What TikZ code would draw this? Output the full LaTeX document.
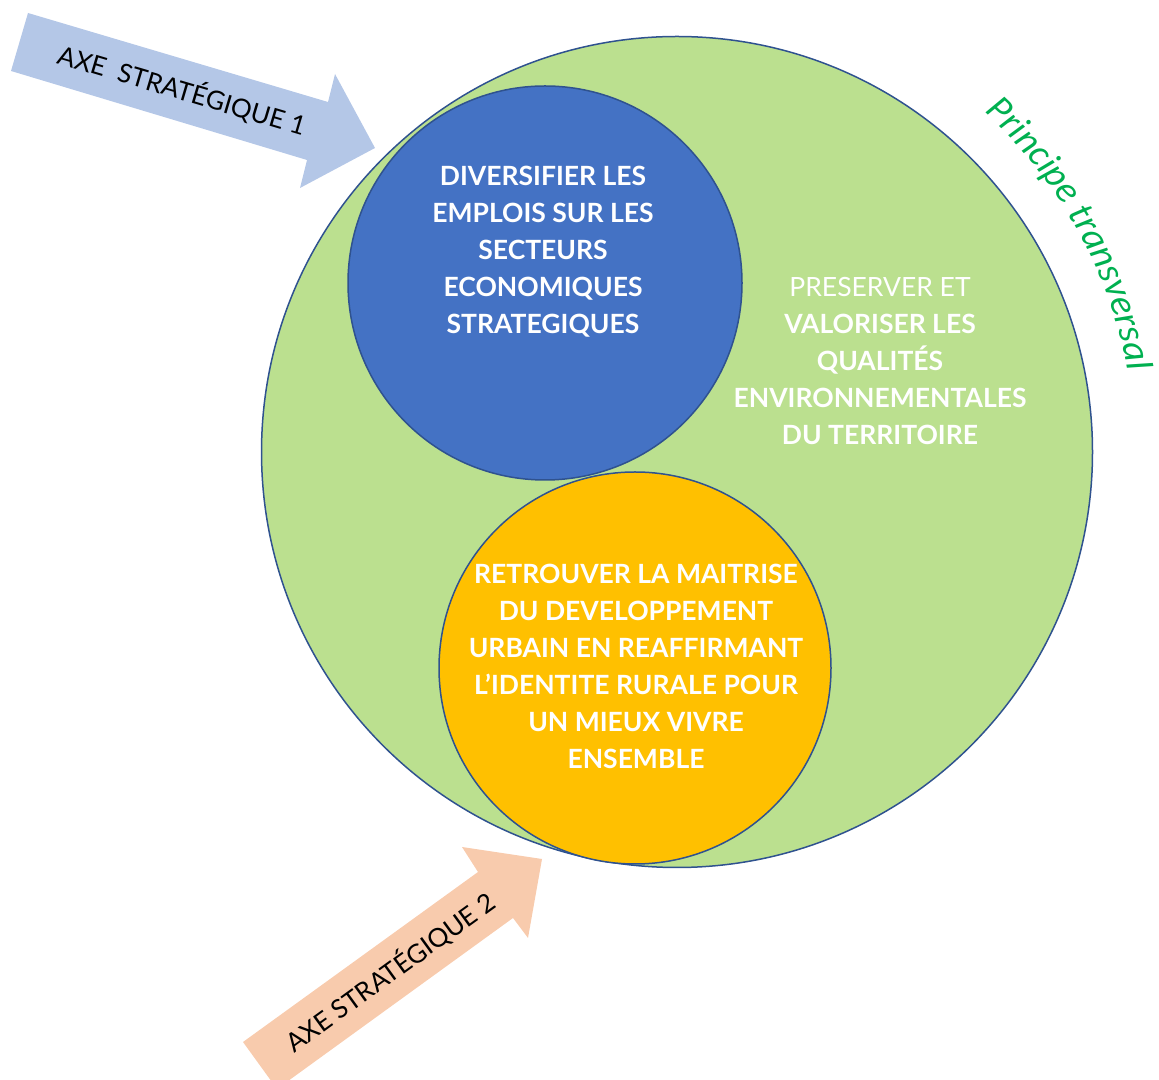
\documentclass[tikz,border=0pt]{standalone}
\usepackage{fontspec}
\setmainfont{Lato}
\newfontfamily\carlito{Carlito}
\usetikzlibrary{decorations.text}
\definecolor{gfill}{RGB}{187,224,143}
\definecolor{bfill}{RGB}{68,114,196}
\definecolor{ofill}{RGB}{255,192,0}
\definecolor{edgecol}{RGB}{47,82,143}
\definecolor{arrA}{RGB}{180,199,231}
\definecolor{arrB}{RGB}{248,203,173}
\definecolor{pgreen}{RGB}{0,176,80}
\begin{document}
\begin{tikzpicture}[x=1pt,y=1pt,
  disc/.style={circle, draw=edgecol, line width=1.5pt, inner sep=0pt},
  bigtext/.style={font=\fontsize{26.5}{37}\selectfont\bfseries, text=white, align=center, inner sep=0pt},
  axetext/.style={font=\fontsize{26}{26}\selectfont, text=black, inner sep=0pt}]
\useasboundingbox (0,0) rectangle (1159,1079);
\clip (0,0) rectangle (1159,1079);
\node[disc, fill=gfill, minimum size=831] (green) at (677,627) {};
\node[disc, fill=bfill, minimum size=394] (blue) at (545,796) {};
\node[disc, fill=ofill, minimum size=392] (orange) at (635,411) {};
% arrows
\fill[arrA] (28,1066) -- (328,977) -- (335,1005) -- (375,931) -- (300,891) -- (307,919) -- (11,1008) -- cycle;
\fill[arrB] (243,37) -- (478,207) -- (462,232) -- (542,220) -- (528,141) -- (513,161) -- (277,-10) -- cycle;
\node[axetext, rotate=-16.5] (axe1) at (182,989) {AXE\hspace{0.25em} STRATÉGIQUE 1};
\node[axetext, rotate=35.9] (axe2) at (390,107) {AXE STRATÉGIQUE 2};
% texts
\node[bigtext] (tblue) at (543,827) {DIVERSIFIER LES\\EMPLOIS SUR LES\\SECTEURS\\ECONOMIQUES\\STRATEGIQUES};
\node[bigtext] (tgreen) at (880,718) {{\mdseries PRESERVER ET}\\VALORISER LES\\QUALITÉS\\ENVIRONNEMENTALES\\DU TERRITOIRE};
\node[bigtext] (torange) at (636,413) {RETROUVER LA MAITRISE\\DU DEVELOPPEMENT\\URBAIN EN REAFFIRMANT\\L’IDENTITE RURALE POUR\\UN MIEUX VIVRE\\ENSEMBLE};
% curved label
\path[decorate, decoration={text along path, text align=center, text color=pgreen,
  text={|\carlito\itshape\fontsize{38}{38}\selectfont|Principe transversal}}]
  (677,627) ++(55:458) arc[start angle=55, end angle=3, radius=458];
\end{tikzpicture}
\end{document}
